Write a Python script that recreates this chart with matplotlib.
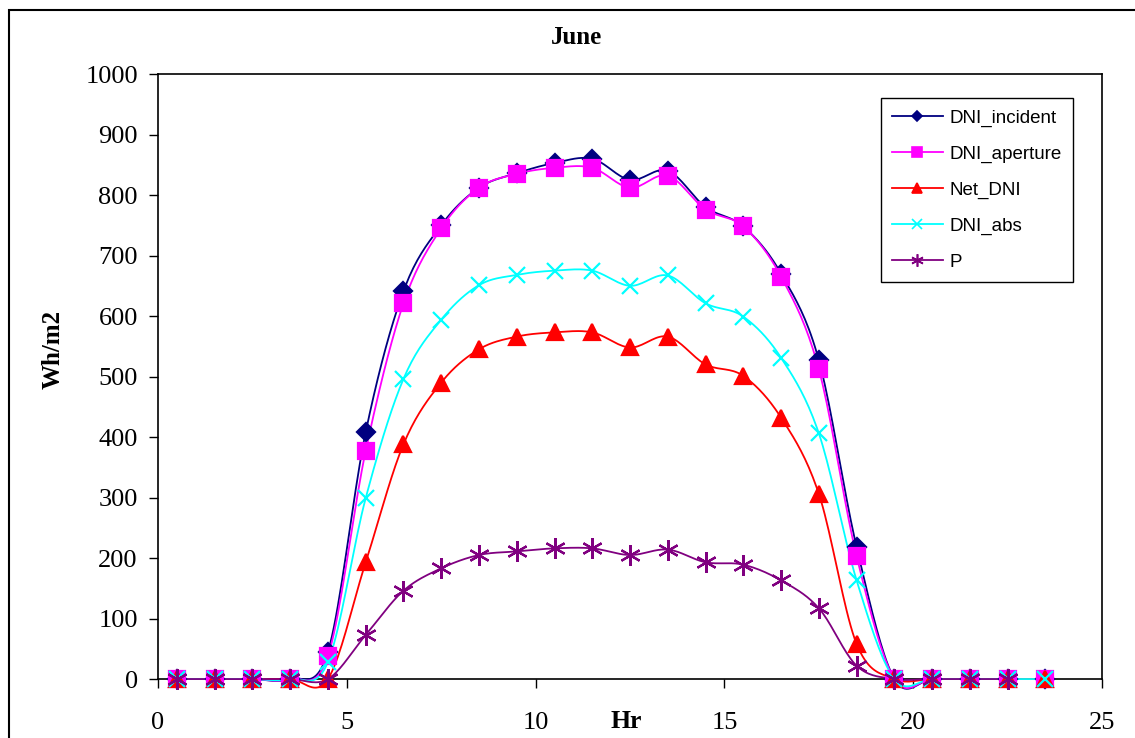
import numpy as np
import matplotlib
matplotlib.use("Agg")
import matplotlib.pyplot as plt
from matplotlib.patches import Rectangle

# hours of the day (mid-hour)
hours = [h + 0.5 for h in range(24)]

dni_incident = [0, 0, 0, 0, 45, 408, 641, 750, 812, 836, 853, 860,
                825, 840, 780, 748, 670, 527, 218, 0, 0, 0, 0, 0]
dni_aperture = [0, 0, 0, 0, 38, 377, 621, 745, 812, 835, 845, 845,
                812, 832, 776, 748, 665, 512, 203, 0, 0, 0, 0, 0]
net_dni = [0, 0, 0, 0, 0, 193, 388, 490, 545, 566, 573, 573,
           548, 566, 520, 501, 432, 306, 58, 0, 0, 0, 0, 0]
dni_abs = [0, 0, 0, 0, 28, 299, 496, 594, 651, 668, 675, 675,
           650, 667, 621, 599, 531, 406, 163, 0, 0, 0, 0, 0]
p_out = [0, 0, 0, 0, 0, 73, 146, 183, 205, 211, 216, 216,
         205, 214, 193, 189, 163, 117, 22, 0, 0, 0, 0]

series = [
    ("DNI_incident", dni_incident, "#000080", "D", 9),
    ("DNI_aperture", dni_aperture, "#FF00FF", "s", 11),
    ("Net_DNI", net_dni, "#FF0000", "^", 12),
    ("DNI_abs", dni_abs, "#00FFFF", "x", 12),
    ("P", p_out, "#800080", (6, 2, 0), 15),
]


def smooth(x, y, n=20):
    # Excel-style smoothed line: bezier segments with catmull-rom handles
    x = np.asarray(x, float)
    y = np.asarray(y, float)
    px = np.concatenate([[x[0]], x, [x[-1]]])
    py = np.concatenate([[y[0]], y, [y[-1]]])
    xs, ys = [], []
    t = np.linspace(0, 1, n)
    for i in range(1, len(px) - 2):
        p0 = np.array([px[i], py[i]])
        p3 = np.array([px[i + 1], py[i + 1]])
        c1 = p0 + (np.array([px[i + 1], py[i + 1]]) - np.array([px[i - 1], py[i - 1]])) / 6
        c2 = p3 - (np.array([px[i + 2], py[i + 2]]) - np.array([px[i], py[i]])) / 6
        b = ((1 - t) ** 3)[:, None] * p0 + (3 * (1 - t) ** 2 * t)[:, None] * c1 \
            + (3 * (1 - t) * t ** 2)[:, None] * c2 + (t ** 3)[:, None] * p3
        xs.extend(b[:, 0])
        ys.extend(b[:, 1])
    return xs, ys


fig = plt.figure(figsize=(11.35, 7.38), dpi=100)
ax = fig.add_axes([0.1392, 0.0799, 0.8318, 0.8198])

for name, vals, color, marker, ms in series:
    xh = hours[:len(vals)]
    sx, sy = smooth(xh, vals)
    ax.plot(sx, sy, color=color, lw=1.3, zorder=2, clip_on=False)
    ax.plot(xh, vals, linestyle="none", marker=marker, markersize=ms,
            color=color, markeredgewidth=1.6, zorder=3, clip_on=False)
    ax.plot([], [], color=color, lw=1.3, marker=marker, markersize=ms * 0.6,
            markeredgewidth=1.2, label=name)

ax.set_xlim(0, 25)
ax.set_ylim(0, 1000)
ax.set_xticks([0, 5, 10, 15, 20, 25])
ax.set_yticks(range(0, 1001, 100))
ax.tick_params(axis="both", direction="out", length=6.5, width=1,
               labelsize=19, labelfontfamily="Liberation Serif")
ax.tick_params(axis="x", pad=17)
ax.tick_params(axis="y", pad=8)
for sp in ax.spines.values():
    sp.set_linewidth(1.2)
    sp.set_color("black")
    sp.set_zorder(1)

fig.text(0.5075, 0.949, "June", ha="center", va="center", fontsize=18,
         fontweight="bold", family="Liberation Serif")
fig.text(0.0467, 0.527, "Wh/m2", ha="center", va="center", rotation=90,
         fontsize=18, fontweight="bold", family="Liberation Serif")
fig.text(0.5515, 0.023, "Hr", ha="center", va="center", fontsize=18.5,
         fontweight="bold", family="Liberation Serif")

leg = ax.legend(loc="upper right", bbox_to_anchor=(0.969, 0.960), borderaxespad=0,
                prop={"family": "Liberation Sans", "size": 13.5}, frameon=True,
                fancybox=False, framealpha=1, edgecolor="black",
                handlelength=2.7, handletextpad=0.35, labelspacing=1.0, borderpad=0.6)
leg.get_frame().set_linewidth(1.0)
leg.set_zorder(5)

# outer chart frame (cropped on right and bottom)
fig.patches.append(Rectangle((9 / 1135, -0.1), 1.2, 1.1 - 10 / 738,
                             transform=fig.transFigure, fill=False,
                             edgecolor="black", linewidth=1.5))

fig.savefig("out.png", dpi=100)
